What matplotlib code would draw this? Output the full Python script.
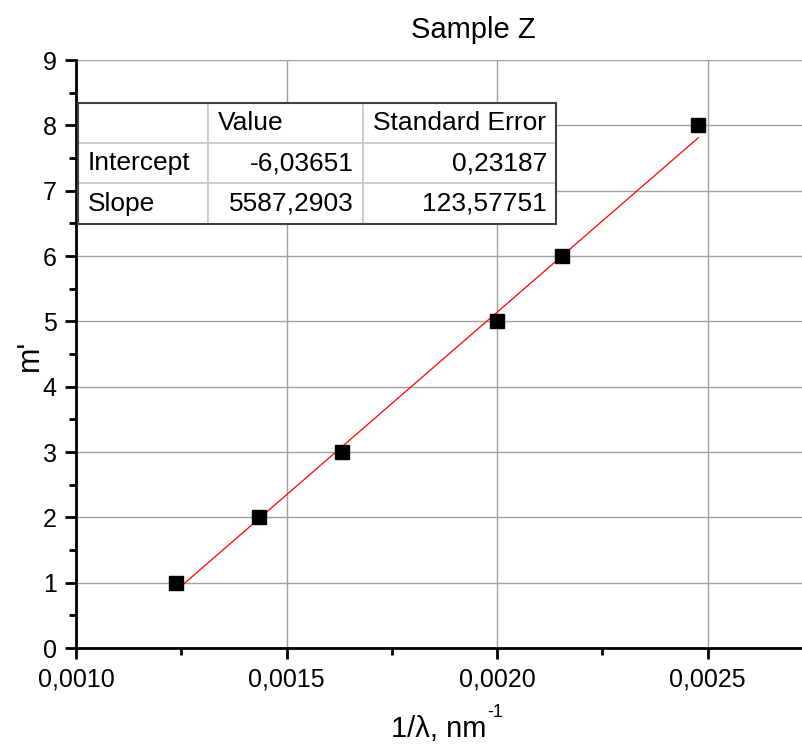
import numpy as np
import matplotlib.pyplot as plt
from matplotlib.ticker import MultipleLocator, FuncFormatter
from matplotlib.patches import Rectangle

plt.rcParams["font.family"] = ["Liberation Sans", "DejaVu Sans"]

# data
inv_lambda = [0.001238, 0.001435, 0.001633, 0.002000, 0.002155, 0.002478]
m_prime = [1, 2, 3, 5, 6, 8]

# linear fit results shown in the table
intercept, intercept_err = -6.03651, 0.23187
slope, slope_err = 5587.2903, 123.57751

table_cols = ["", "Value", "Standard Error"]
table_rows = [["Intercept", "-6,03651", "0,23187"],
              ["Slope", "5587,2903", "123,57751"]]

fig = plt.figure(figsize=(8.02, 7.44), dpi=100)
ax = fig.add_axes([76 / 802, 1 - 648 / 744, 1 - 76 / 802, (648 - 60) / 744])

x = np.array(inv_lambda)
xfit = np.array([x.min(), x.max()])
ax.plot(xfit, intercept + slope * xfit, color="red", lw=0.9, zorder=3)
ax.plot(x, m_prime, "s", color="black", ms=9.5, zorder=4)

ax.set_xlim(0.0010, 0.001 + (802 - 76) / 421 * 0.001)
ax.set_ylim(0, 9)
ax.xaxis.set_major_locator(MultipleLocator(0.0005))
ax.xaxis.set_minor_locator(MultipleLocator(0.00025))
ax.yaxis.set_major_locator(MultipleLocator(1))
ax.yaxis.set_minor_locator(MultipleLocator(0.5))
ax.xaxis.set_major_formatter(FuncFormatter(lambda v, p: f"{v:.4f}".replace(".", ",")))
ax.grid(True, which="major", color="#a0a0a0", lw=1.0)
ax.set_axisbelow(True)

for s in ["top", "right"]:
    ax.spines[s].set_visible(False)
for s in ["left", "bottom"]:
    ax.spines[s].set_linewidth(2)
ax.tick_params(which="major", direction="out", length=8, width=2, labelsize=18, pad=6)
ax.tick_params(which="minor", direction="out", length=5, width=2)

# axis labels (superscript drawn as plain hyphen text like the original)
fig.text(486 / 802, 1 - 737 / 744, "1/\u03bb, nm", fontsize=21, ha="right", va="baseline")
fig.text(487 / 802, 1 - 717 / 744, "-1", fontsize=13, ha="left", va="baseline")
fig.text(30 / 802, 1 - 355 / 744, "m'", fontsize=22, rotation=90, ha="center", va="center")
fig.text(473 / 802, 1 - 30 / 744, "Sample Z", fontsize=21, ha="center", va="center")

# parameter table
cells = [table_cols] + table_rows
col_x = [78, 208, 363, 556]
row_y = [103, 143, 183, 224]
to_ax = lambda px, py: ((px - 76) / 726, (648 - py) / 588)
for r in range(3):
    for c in range(3):
        x0, y1 = to_ax(col_x[c], row_y[r])
        x1, y0 = to_ax(col_x[c + 1], row_y[r + 1])
        ax.add_patch(Rectangle((x0, y0), x1 - x0, y1 - y0, transform=ax.transAxes,
                               facecolor="white", edgecolor="#c8c8c8", lw=1.2, zorder=5))
        txt = cells[r][c]
        if r == 0 or c == 0:
            ax.text(x0 + 10 / 726, (y0 + y1) / 2, txt, transform=ax.transAxes,
                    ha="left", va="center", fontsize=19, zorder=6)
        else:
            ax.text(x1 - 9 / 726, (y0 + y1) / 2, txt, transform=ax.transAxes,
                    ha="right", va="center", fontsize=19, zorder=6)
bx0, by1 = to_ax(col_x[0], row_y[0])
bx1, by0 = to_ax(col_x[-1], row_y[-1])
ax.add_patch(Rectangle((bx0, by0), bx1 - bx0, by1 - by0, transform=ax.transAxes,
                       facecolor="none", edgecolor="#404040", lw=1.5, zorder=7))

fig.savefig("out.png", dpi=100)
